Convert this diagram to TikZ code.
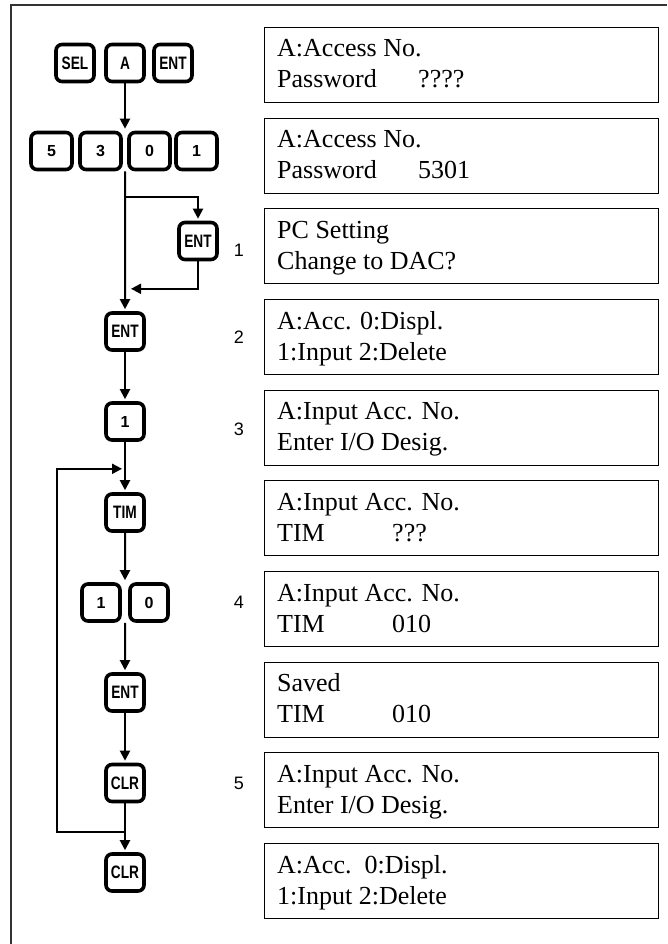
\documentclass[tikz,border=0pt]{standalone}
\usepackage{fontspec}
\setmainfont{Liberation Serif}
\newfontfamily\keyfont[FakeStretch=0.76]{Liberation Sans}
\newfontfamily\lblfont{Liberation Sans}
\usetikzlibrary{arrows.meta,calc}
\begin{document}
\begin{tikzpicture}[x=1pt,y=-1pt,
 key/.style={draw, line width=3.6pt, rounded corners=6pt, minimum width=38pt, minimum height=37pt, inner sep=0pt, font=\keyfont\bfseries\fontsize{18}{18}\selectfont},
 dkey/.style={key, font=\lblfont\bfseries\fontsize{16}{16}\selectfont},
 wkey/.style={dkey, minimum width=41pt},
 lcd/.style={draw, line width=1.1pt, minimum width=394pt, minimum height=75pt, anchor=north west, inner sep=0pt},
 txt/.style={anchor=base west, inner sep=0pt, font=\fontsize{26}{31}\selectfont},
 lbl/.style={font=\lblfont\fontsize{18}{18}\selectfont, inner sep=0pt},
 arr/.style={line width=2pt, -{Triangle[width=10pt,length=10pt]}},
 ln/.style={line width=2pt}
]
\useasboundingbox (0,0) rectangle (667,944);
\draw[line width=1.4pt, black!80] (11,944) -- (11,5) -- (667,5);

% keys
\node[key] (sel) at (75,63) {SEL};
\node[key] (ka) at (125,63) {A};
\node[key] (ent0) at (173,63) {ENT};
\node[wkey] (k5) at (51.5,151) {5};
\node[wkey] (k3) at (100.5,151) {3};
\node[wkey] (k0) at (149.5,151) {0};
\node[wkey] (k1) at (196.5,151) {1};
\node[key] (ent1) at (198,241) {ENT};
\node[key] (ent2) at (125,331.5) {ENT};
\node[dkey] (one) at (125,421.5) {1};
\node[key] (tim) at (125,512.5) {TIM};
\node[dkey] (d1) at (101,602.5) {1};
\node[dkey] (d0) at (149,602.5) {0};
\node[key] (ent3) at (125,692.5) {ENT};
\node[key] (clr1) at (125,783) {CLR};
\node[key] (clr2) at (125,872.5) {CLR};

\coordinate (g1t) at ($(k3.north east)!0.5!(k0.north west)$);
\coordinate (g1b) at ($(k3.south east)!0.5!(k0.south west)$);
\coordinate (g2t) at ($(d1.north east)!0.5!(d0.north west)$);
\coordinate (g2b) at ($(d1.south east)!0.5!(d0.south west)$);
\coordinate (br) at ($(g1b)+(0,26)$);
\coordinate (ret) at ($(ent1.south)+(0,27.5)$);
\coordinate (reti) at ($(g1b |- ret)+(6,0)$);
\coordinate (lp1) at ($(clr1.south)+(0,28.5)$);
\coordinate (lp2) at ($(one.south)+(0,27)$);
\coordinate (lx) at (57,0);

% connectors
\draw[arr] (ka.south) -- ($(ka.south |- g1t)+(0,-2)$);
\draw[arr] (g1b) -- ($(ent2.north)+(0,-2)$);
\draw[arr] (br) -| ($(ent1.north)+(0,-2)$);
\draw[arr] (ent1.south) |- (reti);
\draw[arr] (ent2.south) -- ($(one.north)+(0,-2)$);
\draw[arr] (one.south) -- ($(tim.north)+(0,-2)$);
\draw[arr] (tim.south) -- ($(g2t)+(0,-2)$);
\draw[arr] (g2b) -- ($(ent3.north)+(0,-2)$);
\draw[arr] (ent3.south) -- ($(clr1.north)+(0,-2)$);
\draw[arr] (clr1.south) -- ($(clr2.north)+(0,-2)$);
\draw[arr] (lp1) -- (lp1 -| lx) -- (lp2 -| lx) -- ($(lp2)+(-3,0)$);

% step labels
\node[lbl] (n1) at (239,250) {1};
\node[lbl] (n2) at (239,337) {2};
\node[lbl] (n3) at (239,429) {3};
\node[lbl] (n4) at (239,602) {4};
\node[lbl] (n5) at (239,783) {5};

% displays
\node[lcd] (b1) at (264,27) {};
\node[txt] at ([xshift=13pt,yshift=-30pt]b1.north west) {A:Access No.};
\node[txt] at ([xshift=13pt,yshift=-61pt]b1.north west) {Password};
\node[txt] at ([xshift=154pt,yshift=-61pt]b1.north west) {????};

\node[lcd] (b2) at (264,117.7) {};
\node[txt] at ([xshift=13pt,yshift=-30pt]b2.north west) {A:Access No.};
\node[txt] at ([xshift=13pt,yshift=-61pt]b2.north west) {Password};
\node[txt] at ([xshift=154pt,yshift=-61pt]b2.north west) {5301};

\node[lcd] (b3) at (264,208.3) {};
\node[txt] at ([xshift=13pt,yshift=-30pt]b3.north west) {PC Setting};
\node[txt] at ([xshift=13pt,yshift=-61pt]b3.north west) {Change to DAC?};

\node[lcd] (b4) at (264,299) {};
\node[txt] at ([xshift=13pt,yshift=-30pt]b4.north west) {A:Acc. 0:Displ.};
\node[txt] at ([xshift=13pt,yshift=-61pt]b4.north west) {1:Input 2:Delete};

\node[lcd] (b5) at (264,389.7) {};
\node[txt] at ([xshift=13pt,yshift=-30pt]b5.north west) {A:Input Acc. No.};
\node[txt] at ([xshift=13pt,yshift=-61pt]b5.north west) {Enter I/O Desig.};

\node[lcd] (b6) at (264,480.3) {};
\node[txt] at ([xshift=13pt,yshift=-30pt]b6.north west) {A:Input Acc. No.};
\node[txt] at ([xshift=13pt,yshift=-61pt]b6.north west) {TIM};
\node[txt] at ([xshift=128pt,yshift=-61pt]b6.north west) {???};

\node[lcd] (b7) at (264,571) {};
\node[txt] at ([xshift=13pt,yshift=-30pt]b7.north west) {A:Input Acc. No.};
\node[txt] at ([xshift=13pt,yshift=-61pt]b7.north west) {TIM};
\node[txt] at ([xshift=128pt,yshift=-61pt]b7.north west) {010};

\node[lcd] (b8) at (264,661.7) {};
\node[txt] at ([xshift=13pt,yshift=-30pt]b8.north west) {Saved};
\node[txt] at ([xshift=13pt,yshift=-61pt]b8.north west) {TIM};
\node[txt] at ([xshift=128pt,yshift=-61pt]b8.north west) {010};

\node[lcd] (b9) at (264,752.3) {};
\node[txt] at ([xshift=13pt,yshift=-30pt]b9.north west) {A:Input Acc. No.};
\node[txt] at ([xshift=13pt,yshift=-61pt]b9.north west) {Enter I/O Desig.};

\node[lcd] (b10) at (264,843) {};
\node[txt] at ([xshift=13pt,yshift=-30pt]b10.north west) {A:Acc.\ \ 0:Displ.};
\node[txt] at ([xshift=13pt,yshift=-61pt]b10.north west) {1:Input 2:Delete};
\end{tikzpicture}
\end{document}
